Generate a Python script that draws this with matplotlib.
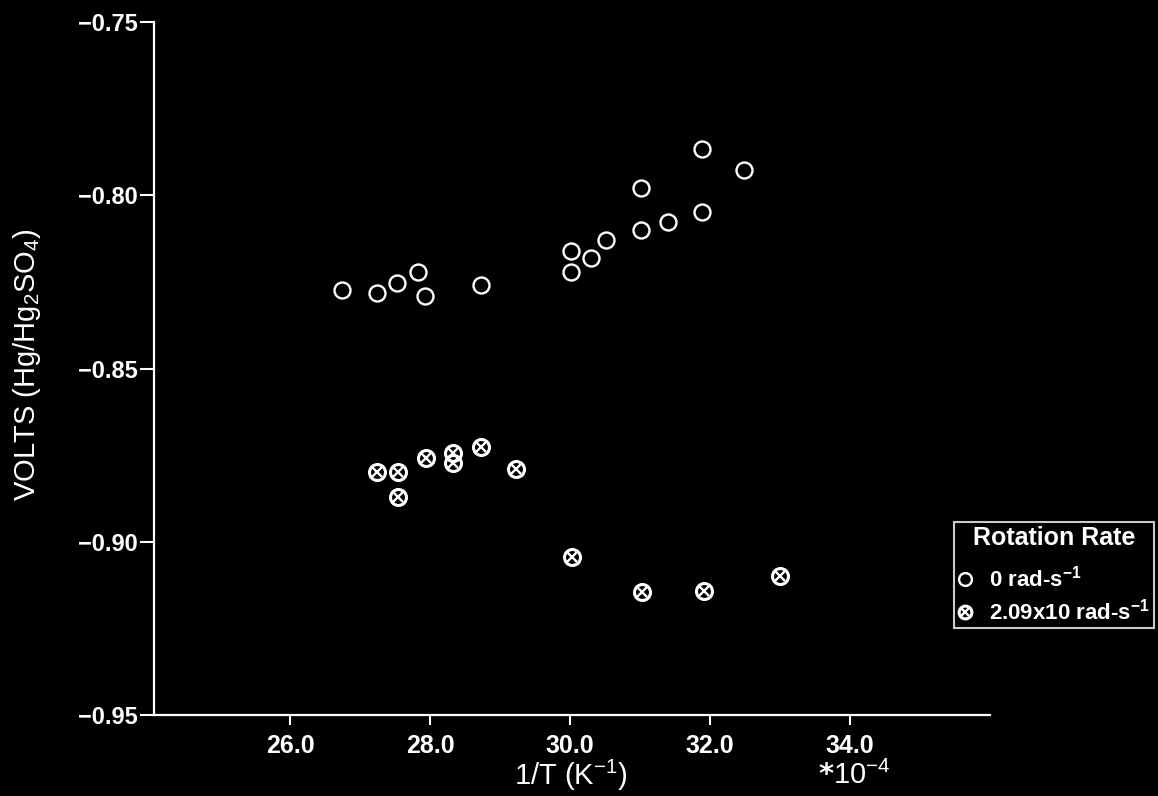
import matplotlib
matplotlib.use("Agg")
import matplotlib.pyplot as plt

# Data
x_still = [26.74, 27.24, 27.53, 27.83, 27.93, 28.72, 30.01, 30.01, 30.30, 30.51,
           31.01, 31.01, 31.40, 31.89, 31.89, 32.49]
v_still = [-0.8273, -0.8283, -0.8252, -0.8222, -0.8291, -0.8260, -0.8160, -0.8221,
           -0.8180, -0.8129, -0.7979, -0.8099, -0.8078, -0.8048, -0.7867, -0.7927]

x_rot = [27.24, 27.54, 27.54, 27.94, 28.33, 28.33, 28.73, 29.22, 30.02, 31.02, 31.91, 33.00]
v_rot = [-0.8800, -0.8800, -0.8870, -0.8759, -0.8745, -0.8774, -0.8727, -0.8789,
         -0.9045, -0.9145, -0.9143, -0.9100]

x_ticks = [26.0, 28.0, 30.0, 32.0, 34.0]
y_ticks = [-0.95, -0.90, -0.85, -0.80, -0.75]
x_tick_labels = ["26.0", "28.0", "30.0", "32.0", "34.0"]
y_tick_labels = ["\u22120.95", "\u22120.90", "\u22120.85", "\u22120.80", "\u22120.75"]
legend_labels = ["0 rad-s$^{-1}$", "2.09x10 rad-s$^{-1}$"]

plt.rcParams['font.family'] = ['Liberation Sans', 'DejaVu Sans']
plt.rcParams['mathtext.default'] = 'regular'

W, H = 1158, 796
fig = plt.figure(figsize=(W / 100, H / 100), dpi=100, facecolor='black')
ax = fig.add_axes([154 / W, 1 - 715 / H, (990 - 154) / W, (715 - 22) / H])
ax.set_facecolor('black')

h1, = ax.plot(x_still, v_still, linestyle='none', marker='o', markersize=11.5,
              markerfacecolor='none', markeredgecolor='white', markeredgewidth=1.7)
h2a, = ax.plot(x_rot, v_rot, linestyle='none', marker='o', markersize=11.5,
               markerfacecolor='none', markeredgecolor='white', markeredgewidth=2.2)
h2b, = ax.plot(x_rot, v_rot, linestyle='none', marker='x', markersize=7.5,
               markeredgecolor='white', markeredgewidth=1.7)

ax.set_xlim(24.05, 36.0)
ax.set_ylim(-0.95, -0.75)
ax.set_xticks(x_ticks)
ax.set_xticklabels(x_tick_labels)
ax.set_yticks(y_ticks)
ax.set_yticklabels(y_tick_labels)

for s in ['top', 'right']:
    ax.spines[s].set_visible(False)
for s in ['left', 'bottom']:
    ax.spines[s].set_color('white')
    ax.spines[s].set_linewidth(1.6)

ax.tick_params(axis='y', colors='white', length=10, width=1.5, direction='out', pad=2,
               labelsize=17)
ax.tick_params(axis='x', colors='white', length=7, width=1.5, direction='out', pad=7,
               labelsize=18)
for lab in ax.get_yticklabels():
    lab.set_fontweight('bold')
for lab in ax.get_xticklabels():
    lab.set_fontweight('semibold')

fig.text(27 / W, 1 - 365 / H, "VOLTS (Hg/Hg$_2$SO$_4$)", color='white', fontsize=21,
         rotation=90, ha='center', va='center')
fig.text(571 / W, 1 - 775 / H, "1/T (K$^{-1}$)", color='white', fontsize=21,
         ha='center', va='center')
fig.text(854 / W, 1 - 775 / H, "$\\mathbf{*}$10$^{-4}$", color='white', fontsize=21,
         ha='center', va='center')

fs_leg = 16
leg = ax.legend([h1, (h2a, h2b)], legend_labels, title="Rotation Rate",
                loc='upper left', bbox_to_anchor=(954 / W, 1 - 522 / H),
                bbox_transform=fig.transFigure, frameon=True, facecolor='black',
                edgecolor='white', fancybox=False, fontsize=fs_leg, handlelength=0.6,
                handletextpad=0.8, borderpad=0.18, labelspacing=0.3,
                title_fontproperties={'weight': 'bold', 'size': 18}, markerscale=0.8,
                borderaxespad=0)
leg.get_frame().set_linewidth(1.5)
leg.get_title().set_color('white')
for t in leg.get_texts():
    t.set_color('white')
    t.set_fontweight('bold')
leg._legend_box.sep = 11.5

fig.savefig("out.png", dpi=100, facecolor='black')
